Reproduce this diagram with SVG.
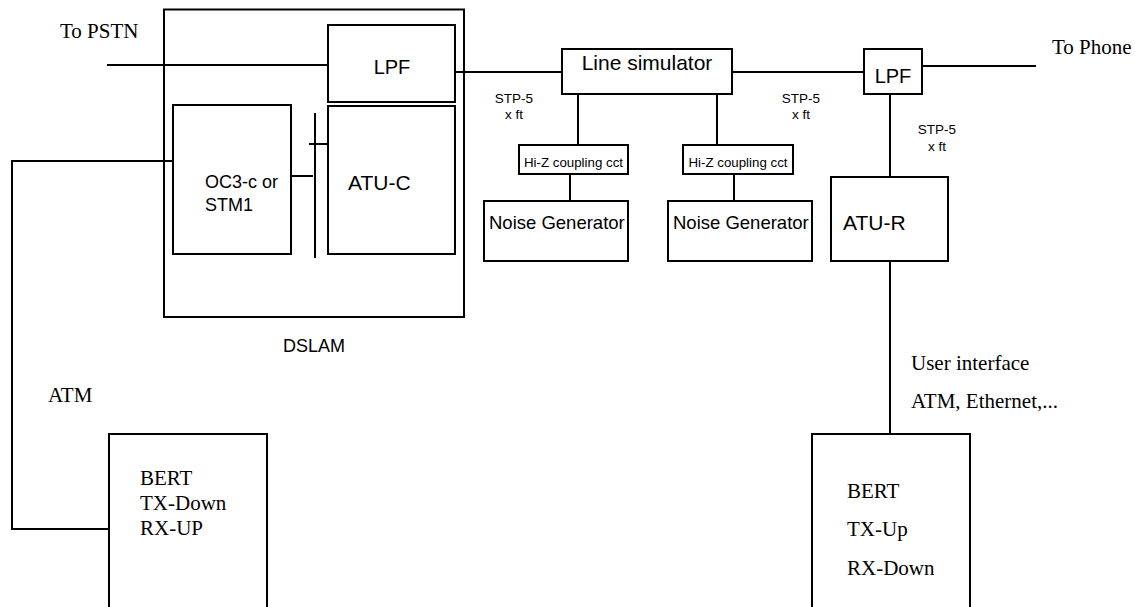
<svg xmlns="http://www.w3.org/2000/svg" width="1135" height="607" viewBox="0 0 1135 607">
<style>
.box{fill:#fff;stroke:#000;stroke-width:2}
.ln{fill:none;stroke:#000;stroke-width:2}
.s{font-family:"Liberation Sans",Arial,sans-serif;fill:#000}
.t{font-family:"Liberation Serif","Times New Roman",serif;fill:#000;font-size:21px}
</style>
<rect width="1135" height="607" fill="#fff"/>
<g id="dslam">
<rect class="box" x="164" y="9.5" width="300" height="307.5"/>
<text class="s" x="283" y="352" font-size="18">DSLAM</text>
</g>
<g id="connectors">
<path class="ln" d="M107 65H328"/>
<path class="ln" d="M455 72H562"/>
<path class="ln" d="M732 72H864"/>
<path class="ln" d="M922 66H1036"/>
<path class="ln" d="M578 94V145"/>
<path class="ln" d="M570 174V201"/>
<path class="ln" d="M717 94V145"/>
<path class="ln" d="M734 174V201"/>
<path class="ln" d="M890 94V177"/>
<path class="ln" d="M890 257V434"/>
<path class="ln" d="M173 161H12V529H109"/>
<path class="ln" d="M315 113V258"/>
<path class="ln" d="M309 144H330"/>
<path class="ln" d="M291 176H313"/>
</g>
<g id="lpf1">
<rect class="box" x="328" y="25" width="127" height="77"/>
<text class="s" x="392" y="74" font-size="20" text-anchor="middle">LPF</text>
</g>
<g id="atuc">
<rect class="box" x="328" y="106" width="127" height="148"/>
<text class="s" x="348" y="190" font-size="21">ATU-C</text>
</g>
<g id="oc3">
<rect class="box" x="173" y="105" width="118" height="149"/>
<text class="s" x="205" y="188" font-size="18">OC3-c or</text>
<text class="s" x="205" y="211" font-size="18">STM1</text>
</g>
<g id="linesim">
<rect class="box" x="562" y="49" width="170" height="45"/>
<text class="s" x="647" y="70" font-size="21" text-anchor="middle">Line simulator</text>
</g>
<g id="hiz1">
<rect class="box" x="519" y="145" width="109" height="29"/>
<text class="s" x="573.5" y="167" font-size="13.3" text-anchor="middle">Hi-Z coupling cct</text>
</g>
<g id="hiz2">
<rect class="box" x="683" y="145" width="110" height="29"/>
<text class="s" x="738" y="167" font-size="13.3" text-anchor="middle">Hi-Z coupling cct</text>
</g>
<g id="noise1">
<rect class="box" x="484" y="201" width="144" height="60"/>
<text class="s" x="489" y="229" font-size="18.5">Noise Generator</text>
</g>
<g id="noise2">
<rect class="box" x="668" y="201" width="144" height="60"/>
<text class="s" x="673" y="229" font-size="18.5">Noise Generator</text>
</g>
<g id="lpf2">
<rect class="box" x="864" y="49" width="58" height="45"/>
<text class="s" x="893" y="83" font-size="20" text-anchor="middle">LPF</text>
</g>
<g id="atur">
<rect class="box" x="831" y="177" width="117" height="84"/>
<text class="s" x="843" y="230" font-size="21">ATU-R</text>
</g>
<g id="bert1">
<rect class="box" x="109" y="434" width="158" height="180"/>
<text class="t" x="140" y="485">BERT</text>
<text class="t" x="140" y="510">TX-Down</text>
<text class="t" x="140" y="535">RX-UP</text>
</g>
<g id="bert2">
<rect class="box" x="812" y="434" width="158" height="180"/>
<text class="t" x="847" y="498">BERT</text>
<text class="t" x="847" y="536">TX-Up</text>
<text class="t" x="847" y="575">RX-Down</text>
</g>
<g id="labels">
<text class="t" x="60" y="38">To PSTN</text>
<text class="t" x="1052" y="54">To Phone</text>
<text class="t" x="48" y="402">ATM</text>
<text class="t" x="911" y="370">User interface</text>
<text class="t" x="911" y="408">ATM, Ethernet,...</text>
<text class="s" x="514" y="103" font-size="13.5" text-anchor="middle">STP-5</text>
<text class="s" x="514" y="119" font-size="13.5" text-anchor="middle">x ft</text>
<text class="s" x="801" y="103" font-size="13.5" text-anchor="middle">STP-5</text>
<text class="s" x="801" y="119" font-size="13.5" text-anchor="middle">x ft</text>
<text class="s" x="937" y="134" font-size="13.5" text-anchor="middle">STP-5</text>
<text class="s" x="937" y="151" font-size="13.5" text-anchor="middle">x ft</text>
</g>
</svg>
